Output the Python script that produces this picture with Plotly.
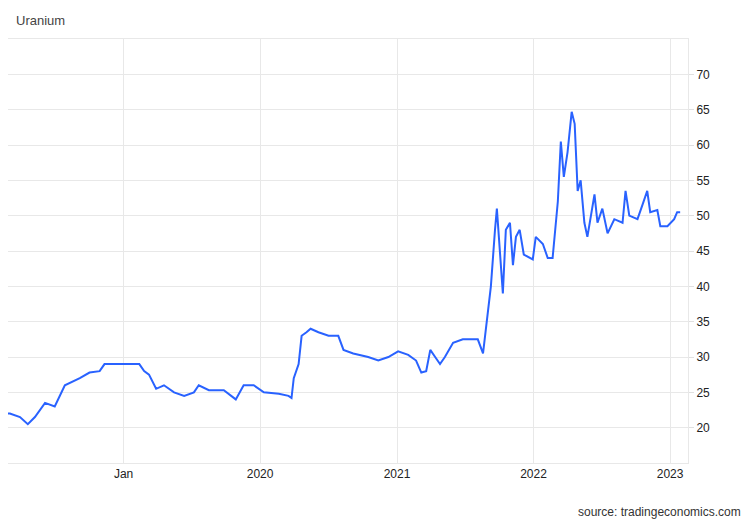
import plotly.graph_objects as go

dates = ["2018-02-05","2018-03-03","2018-03-30","2018-04-20","2018-05-09","2018-06-05","2018-07-01","2018-07-28",
"2018-09-06","2018-10-02","2018-10-29","2018-11-11","2018-12-21","2019-02-12","2019-02-25","2019-03-10","2019-03-29",
"2019-04-19","2019-05-16","2019-06-12","2019-07-08","2019-07-21","2019-08-17","2019-09-26","2019-10-28","2019-11-18",
"2019-12-15","2020-01-11","2020-02-20","2020-03-17","2020-03-25","2020-03-31","2020-04-13","2020-04-21","2020-05-04",
"2020-05-15","2020-06-05","2020-07-02","2020-07-28","2020-08-11","2020-09-06","2020-10-16","2020-11-12","2020-12-09",
"2021-01-04","2021-01-31","2021-02-21","2021-03-07","2021-03-20","2021-03-31","2021-04-13","2021-04-26","2021-05-09",
"2021-05-31","2021-06-26","2021-08-05","2021-08-19","2021-08-27","2021-09-09","2021-09-20","2021-09-25","2021-10-03",
"2021-10-11","2021-10-19","2021-10-30","2021-11-07","2021-11-15","2021-11-25","2021-12-06","2021-12-30","2022-01-07",
"2022-01-26","2022-02-08","2022-02-21","2022-03-07","2022-03-15","2022-03-23","2022-04-02","2022-04-13","2022-04-21",
"2022-04-29","2022-05-07","2022-05-17","2022-05-25","2022-06-08","2022-06-13","2022-06-21","2022-07-04","2022-07-18",
"2022-08-05","2022-08-27","2022-09-04","2022-09-14","2022-10-06","2022-10-19","2022-11-01","2022-11-09","2022-11-28",
"2022-12-06","2022-12-25","2023-01-12","2023-01-20","2023-01-28"]
values = [22.1,22,21.5,20.5,21.5,23.5,23,26,27,27.8,28,29,29,29,28,27.5,25.5,
26,25,24.5,25,26,25.3,25.3,24,26,
26,25,24.8,24.5,24.2,27,29,33,33.5,
34,33.5,33,33,31,30.5,30,29.5,30,
30.8,30.3,29.5,27.8,28,31,30,29,30,
32,32.5,32.5,30.5,34,40,48,51,45,
39,48,49,43,47,48,44.5,43.8,47,
46,44,44,52,60.5,55.5,59,64.7,63,
53.5,55,49,47,51,53,49,51,47.5,
49.5,49,53.5,50,49.5,51.5,53.5,50.5,50.8,
48.5,48.5,49.5,50.5,50.5]

tick_dates = ["2019-01-01","2020-01-01","2021-01-01","2022-01-01","2023-01-01"]
tick_text = ["Jan","2020","2021","2022","2023"]
y_ticks = [20,25,30,35,40,45,50,55,60,65,70]

fig = go.Figure(go.Scatter(x=dates, y=values, mode="lines",
    line=dict(color="#2962ff", width=2), hoverinfo="skip"))

fig.update_layout(
    width=742, height=512, plot_bgcolor="white", paper_bgcolor="white",
    margin=dict(l=0, r=62, t=31, b=57), showlegend=False,
    font=dict(family="Liberation Sans, Arial", size=12, color="#222"),
    annotations=[
        dict(text="Uranium", x=0, y=1, xref="paper", yref="paper", showarrow=False,
             xanchor="left", yanchor="middle", xshift=6, yshift=19,
             font=dict(size=13, color="#444")),
        dict(text="source: tradingeconomics.com", xref="paper", yref="paper",
             x=1, y=0, xanchor="right", yanchor="middle", showarrow=False,
             xshift=55, yshift=-49, font=dict(size=12, color="#333")),
    ],
)
fig.update_xaxes(range=["2018-02-26","2023-02-18"], tickvals=tick_dates, ticktext=tick_text,
    showgrid=True, gridcolor="#e8e8e8", showline=True, linecolor="#e8e8e8", mirror=True,
    ticks="", zeroline=False, tickfont=dict(size=12, color="#222"))
fig.update_yaxes(range=[15,75], side="right", tickvals=y_ticks, showgrid=True, gridcolor="#e8e8e8",
    ticks="outside", ticklen=5, tickcolor="#e0e0e0", showline=True, linecolor="#e8e8e8", mirror=True,
    zeroline=False, tickfont=dict(size=12, color="#222"))
fig.write_html("out.html")
